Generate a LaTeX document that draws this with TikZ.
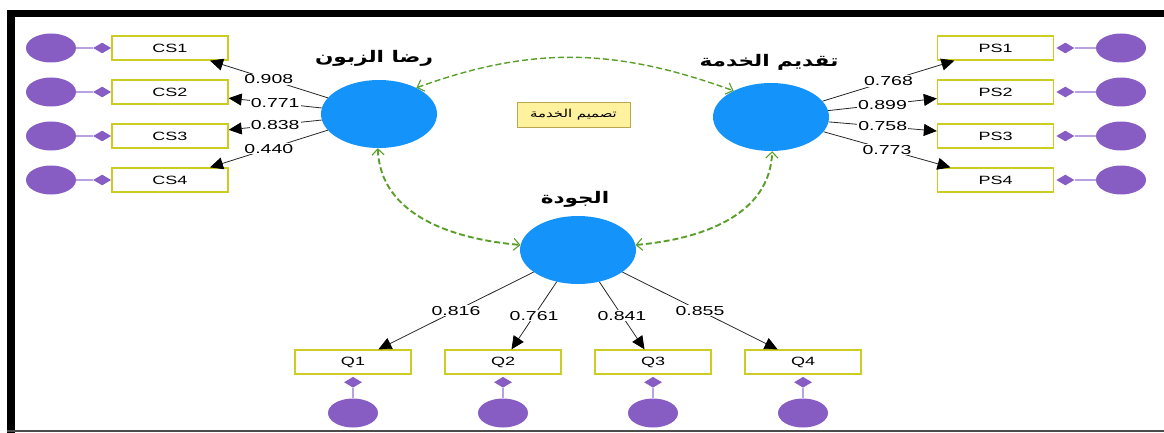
\documentclass[tikz,border=0pt]{standalone}
\usepackage{fontspec}
\setmainfont{Liberation Sans}
\newfontfamily\latinwide[FakeStretch=1.5]{Liberation Sans}
\newfontfamily\arabicfont[Script=Arabic,FakeStretch=1.35]{DejaVu Sans}
\TeXXeTstate=1
\usepackage{tikz}
\usetikzlibrary{arrows.meta, positioning, shapes.geometric}

\definecolor{latblue}{HTML}{1493FA}
\definecolor{errpurple}{HTML}{875DC4}
\definecolor{errline}{HTML}{B9A2E2}
\definecolor{boxyellow}{HTML}{CCCC22}
\definecolor{notefill}{HTML}{FFF29E}
\definecolor{notedraw}{HTML}{BBA550}
\definecolor{arcgreen}{HTML}{5A9E2A}

\tikzset{
  latent/.style={ellipse, fill=latblue, minimum width=116pt, minimum height=68pt, inner sep=0pt},
  ind/.style={draw=boxyellow, line width=1.3pt, fill=white, minimum width=116pt, minimum height=24pt, inner sep=0pt, font=\latinwide\fontsize{12}{14}\selectfont},
  err/.style={ellipse, fill=errpurple, minimum width=50pt, minimum height=29pt, inner sep=0pt},
  dia/.style={diamond, fill=errpurple, aspect=1.67, inner xsep=4.5pt, inner ysep=2.7pt},
  errl/.style={draw=errline, line width=1.5pt},
  load/.style={draw=black!85, line width=0.8pt, -{Triangle[length=13pt,width=12pt,black]}},
  lbl/.style={fill=white, inner sep=1pt, font=\latinwide\fontsize{13}{15}\selectfont},
  corr/.style={draw=arcgreen, line width=1.9pt, dash pattern=on 6pt off 3pt,
    {Straight Barb[length=6pt,width=12pt,line width=1.1pt]}-{Straight Barb[length=6pt,width=12pt,line width=1.1pt]}},
  title/.style={font=\arabicfont\bfseries\fontsize{16}{19}\selectfont},
  note/.style={draw=notedraw, line width=0.8pt, fill=notefill, minimum width=113pt, minimum height=25pt, inner sep=0pt, font=\arabicfont\fontsize{11}{13}\selectfont},
}

\begin{document}
\begin{tikzpicture}[x=1pt, y=1pt]
  \useasboundingbox (0,0) rectangle (1164,-433);
  % frame
  \fill[black] (7,-10) rectangle (15,-433);
  \fill[black] (7,-10) rectangle (1164,-17);
  \draw[black!70, line width=2pt] (7,-431) -- (1164,-431);

  % latent variables
  \node[latent] (sat) at (379,-114) {};
  \node[latent] (srv) at (771,-117) {};
  \node[latent] (qual) at (578,-250) {};
  \node[title] (satlbl) at (374,-58) {\beginR رضا الزبون\endR};
  \node[title] (srvlbl) at (769,-62) {\beginR تقديم الخدمة\endR};
  \node[title] (quallbl) at (575,-199) {\beginR الجودة\endR};
  \node[note] (design) at (573.5,-114.5) {\beginR تصميم الخدمة\endR};

  % indicators
  \foreach \i/\y in {1/48,2/92,3/136,4/180} {
    \node[ind] (cs\i) at (170,-\y) {CS\i};
    \node[dia, anchor=east] (dcs\i) at (cs\i.west) {};
    \node[err] (ecs\i) at (51,-\y) {};
    \draw[errl] (ecs\i) -- (dcs\i);
    \node[ind] (ps\i) at (995.5,-\y) {PS\i};
    \node[dia, anchor=west] (dps\i) at ([xshift=2pt]ps\i.east) {};
    \node[err] (eps\i) at (1121,-\y) {};
    \draw[errl] (eps\i) -- (dps\i);
  }
  \foreach \i/\x in {1/353,2/503,3/653,4/803} {
    \node[ind] (q\i) at (\x,-362) {Q\i};
    \node[dia, anchor=north] (dq\i) at ([yshift=-2pt]q\i.south) {};
    \node[err] (eq\i) at (\x,-413) {};
    \draw[errl] (eq\i) -- (dq\i);
  }

  % loadings
  \foreach \i/\v in {1/0.908,2/0.771,3/0.838,4/0.440}
    \draw[load] (sat) -- node[lbl] {\v} (cs\i);
  \foreach \i/\v in {1/0.768,2/0.899,3/0.758,4/0.773}
    \draw[load] (srv) -- node[lbl] {\v} (ps\i);
  \foreach \i/\v in {1/0.816,2/0.761,3/0.841,4/0.855}
    \draw[load] (qual) -- node[lbl] {\v} (q\i);

  % correlations
  \draw[corr, line width=1.4pt] (sat.35) to[out=20, in=160] (srv.145);
  \draw[corr] (sat.268) to[out=-88, in=175] (qual.175);
  \draw[corr] (qual.5) to[out=5, in=-92] (srv.272);
\end{tikzpicture}
\end{document}
